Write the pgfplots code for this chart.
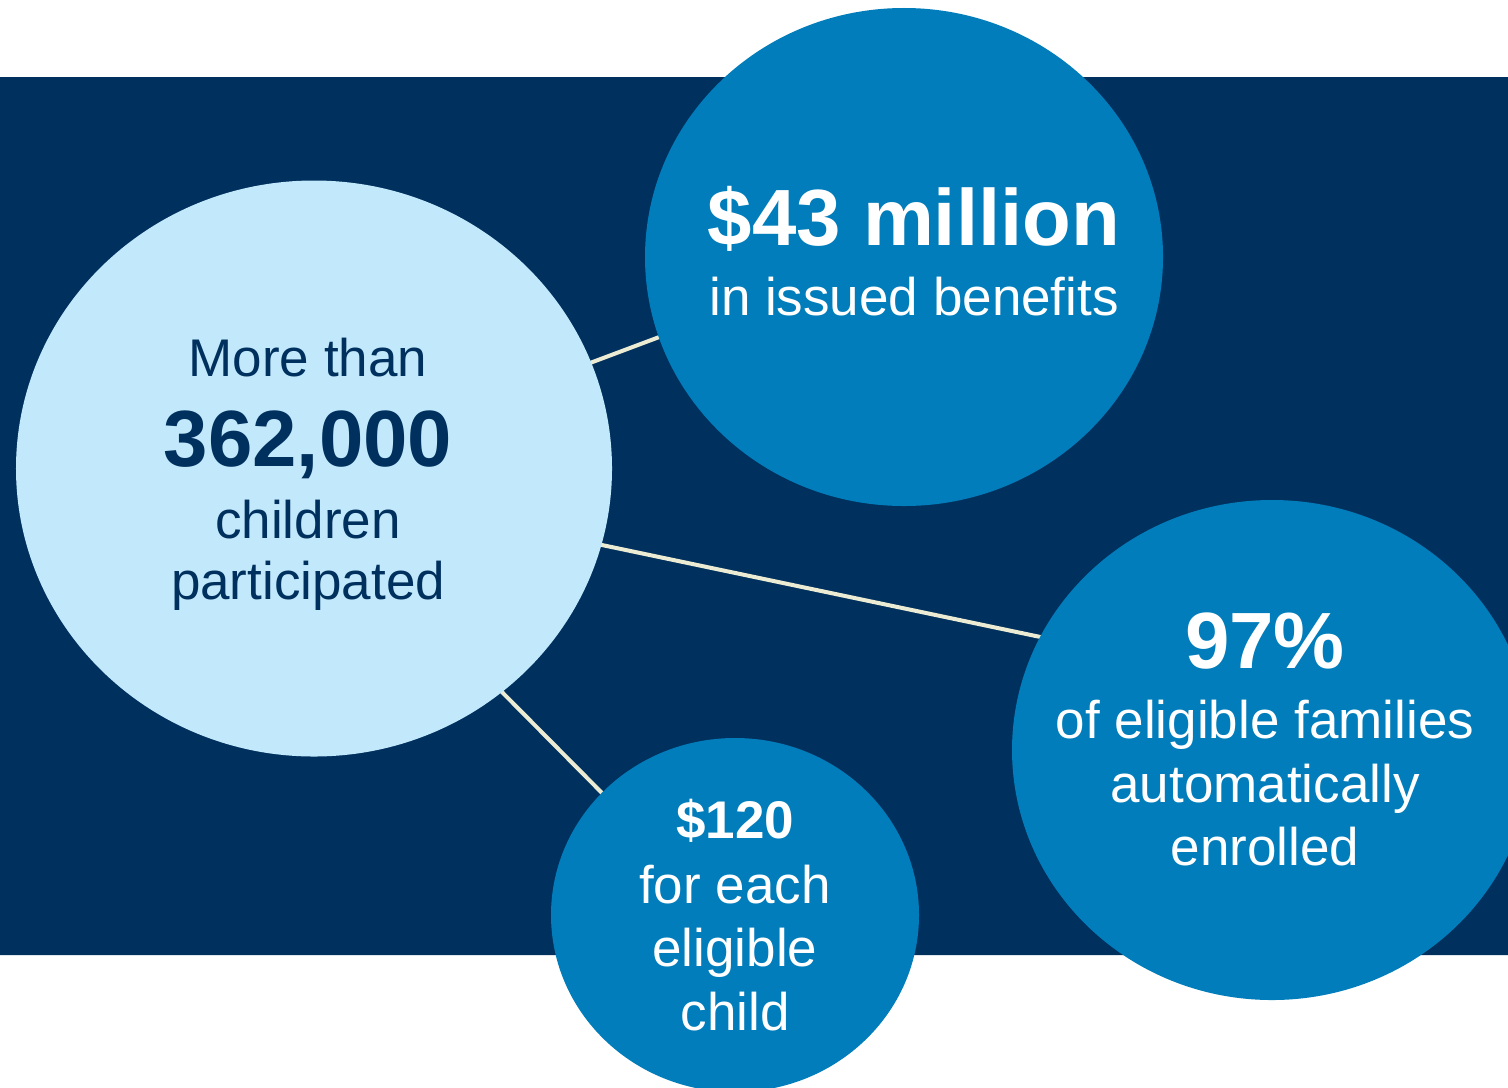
\documentclass[border=0pt]{standalone}
\usepackage{pgfplots}
\usepackage{pgfplotstable}
\pgfplotsset{compat=1.18}
\usepackage{fontspec}
\setmainfont{Liberation Sans}
\definecolor{navy}{HTML}{00305E}
\definecolor{midblue}{HTML}{007DBA}
\definecolor{lightblue}{HTML}{C2E8FB}
\definecolor{linecol}{HTML}{ECEBD3}
\pgfdeclareplotmark{ellbubble}{%
  \pgfpathellipse{\pgfpointorigin}{\pgfpoint{\rxpt pt}{0pt}}{\pgfpoint{0pt}{\rypt pt}}%
  \pgfusepathqfill}
\pgfplotstableread{
x y rx ry
314 618.5 298 288
}\lightdata
\pgfplotstableread{
x y rx ry
904 830 259 249
1272 337 260 250
735 172 184 177
}\bluedata
\newcommand{\regtxt}{\fontsize{15.08}{18}\selectfont}
\newcommand{\bigtxt}{\fontsize{22.7}{27}\selectfont\bfseries}
\begin{document}
\begin{tikzpicture}
\begin{axis}[
  at={(0,0)}, anchor=south west,
  width=15.08cm, height=10.87cm, scale only axis,
  xmin=0, xmax=1508, ymin=0, ymax=1087,
  axis lines=none, clip=true, clip marker paths=true,
]
% background band
\addplot[fill=navy, draw=none] coordinates {(0,132) (1508,132) (1508,1010) (0,1010) (0,132)};
% connector lines
\addplot[linecol, line width=1.14pt] coordinates {(590,724) (670,754)};
\addplot[linecol, line width=1.14pt] coordinates {(590,544.5) (1050,448)};
\addplot[linecol, line width=1.14pt] coordinates {(495,402) (605,291)};
% bubbles
\addplot[scatter, only marks, mark=ellbubble,
  scatter/use mapped color={draw=none, fill=lightblue},
  visualization depends on={\thisrow{rx}*0.28453 \as \rxpt},
  visualization depends on={\thisrow{ry}*0.28453 \as \rypt},
] table[x=x, y=y] {\lightdata};
\addplot[scatter, only marks, mark=ellbubble,
  scatter/use mapped color={draw=none, fill=midblue},
  visualization depends on={\thisrow{rx}*0.28453 \as \rxpt},
  visualization depends on={\thisrow{ry}*0.28453 \as \rypt},
] table[x=x, y=y] {\bluedata};
% texts
\begin{scope}[every node/.style={anchor=base, inner sep=0pt}]
\node[text=white] at (axis cs:914,842) {\bigtxt \$43 million};
\node[text=white] at (axis cs:914,772) {\regtxt in issued benefits};
\node[text=navy] at (axis cs:308,711) {\regtxt More than};
\node[text=navy] at (axis cs:308,621) {\bigtxt 362,000};
\node[text=navy] at (axis cs:308,549) {\regtxt children};
\node[text=navy] at (axis cs:308,488) {\regtxt participated};
\node[text=white] at (axis cs:1265,419) {\bigtxt 97\%};
\node[text=white] at (axis cs:1265,349) {\regtxt of eligible families};
\node[text=white] at (axis cs:1265,285) {\regtxt automatically};
\node[text=white] at (axis cs:1265,222) {\regtxt enrolled};
\node[text=white] at (axis cs:735,249) {\regtxt\bfseries \$120};
\node[text=white] at (axis cs:735,184) {\regtxt for each};
\node[text=white] at (axis cs:735,121) {\regtxt eligible};
\node[text=white] at (axis cs:735,57) {\regtxt child};
\end{scope}
\end{axis}
\pgfresetboundingbox
\path[use as bounding box] (0,0) rectangle (15.08cm,10.87cm);
\end{tikzpicture}
\end{document}
